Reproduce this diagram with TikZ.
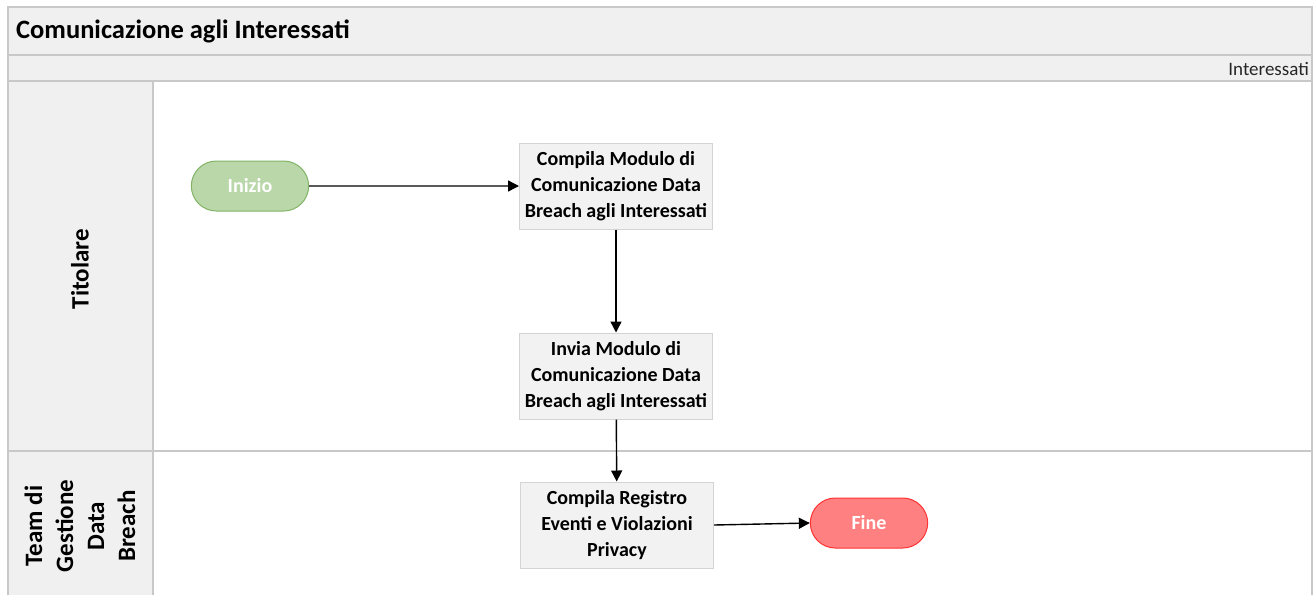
\documentclass[tikz,border=0pt]{standalone}
\usepackage{fontspec}
\setmainfont{Carlito}
\usetikzlibrary{arrows.meta,shapes.misc}
\definecolor{bandfill}{HTML}{F0F0F0}
\definecolor{rulegray}{HTML}{C8C8C8}
\definecolor{boxfill}{HTML}{F2F2F2}
\definecolor{boxline}{HTML}{D4D4D4}
\definecolor{startfill}{HTML}{B9D7A8}
\definecolor{startline}{HTML}{82B366}
\definecolor{endfill}{HTML}{FF8080}
\definecolor{endline}{HTML}{FF3333}
\tikzset{
  stepbox/.style={draw=boxline, fill=boxfill, line width=1pt, minimum width=193pt,
    minimum height=86pt, align=center, inner sep=1pt,
    font=\fontsize{20}{26}\selectfont\bfseries, text=black},
  terminal/.style={rounded rectangle, line width=1pt, minimum width=124pt,
    minimum height=50pt, font=\fontsize{20}{22}\selectfont\bfseries, text=white},
  startnode/.style={terminal, draw=startline, fill=startfill},
  endnode/.style={terminal, draw=endline, fill=endfill},
  flow/.style={line width=1.4pt, -{Triangle[length=11pt,width=11pt]}},
  lanelabel/.style={rotate=90, align=center, font=\fontsize{25}{31}\selectfont\bfseries},
  frame/.style={draw=rulegray, line width=1.2pt}
}
\begin{document}
\begin{tikzpicture}[x=1pt, y=-1pt]
  \useasboundingbox (0,0) rectangle (1316,595);
  % header bands and lane-label column
  \fill[bandfill] (8,7) rectangle (1312,81);
  \fill[bandfill] (8,81) rectangle (153,595);
  \draw[frame] (8,595) -- (8,7) -- (1312,7) -- (1312,595);
  \draw[frame] (8,55) -- (1312,55);
  \draw[frame] (8,81) -- (1312,81);
  \draw[frame] (153,81) -- (153,595);
  \draw[frame] (8,451) -- (1312,451);
  % texts of the header
  \node[anchor=west, font=\fontsize{26.5}{28}\selectfont\bfseries, inner sep=0pt] (title) at (16,31) {Comunicazione agli Interessati};
  \node[anchor=east, font=\fontsize{19}{20}\selectfont, text=black!85, inner sep=1pt] (pool) at (1310,69) {Interessati};
  % lane labels
  \node[lanelabel] (laneA) at (80,269) {Titolare};
  \node[lanelabel] (laneB) at (80,526) {Team di\\Gestione\\Data\\Breach};
  % process nodes
  \node[startnode] (start) at (250,186) {Inizio};
  \node[stepbox] (compila) at (616,186) {Compila Modulo di\\Comunicazione Data\\Breach agli Interessati};
  \node[stepbox] (invia) at (616,376) {Invia Modulo di\\Comunicazione Data\\Breach agli Interessati};
  \node[stepbox] (registro) at (617,525) {Compila Registro\\Eventi e Violazioni\\Privacy};
  \node[endnode] (fine) at (869,523) {Fine};
  % connectors
  \draw[flow] (start) -- (compila);
  \draw[flow] (compila) -- (invia);
  \draw[flow] (invia) -- (registro);
  \draw[flow] (registro.east) -- (fine.west);
\end{tikzpicture}
\end{document}
